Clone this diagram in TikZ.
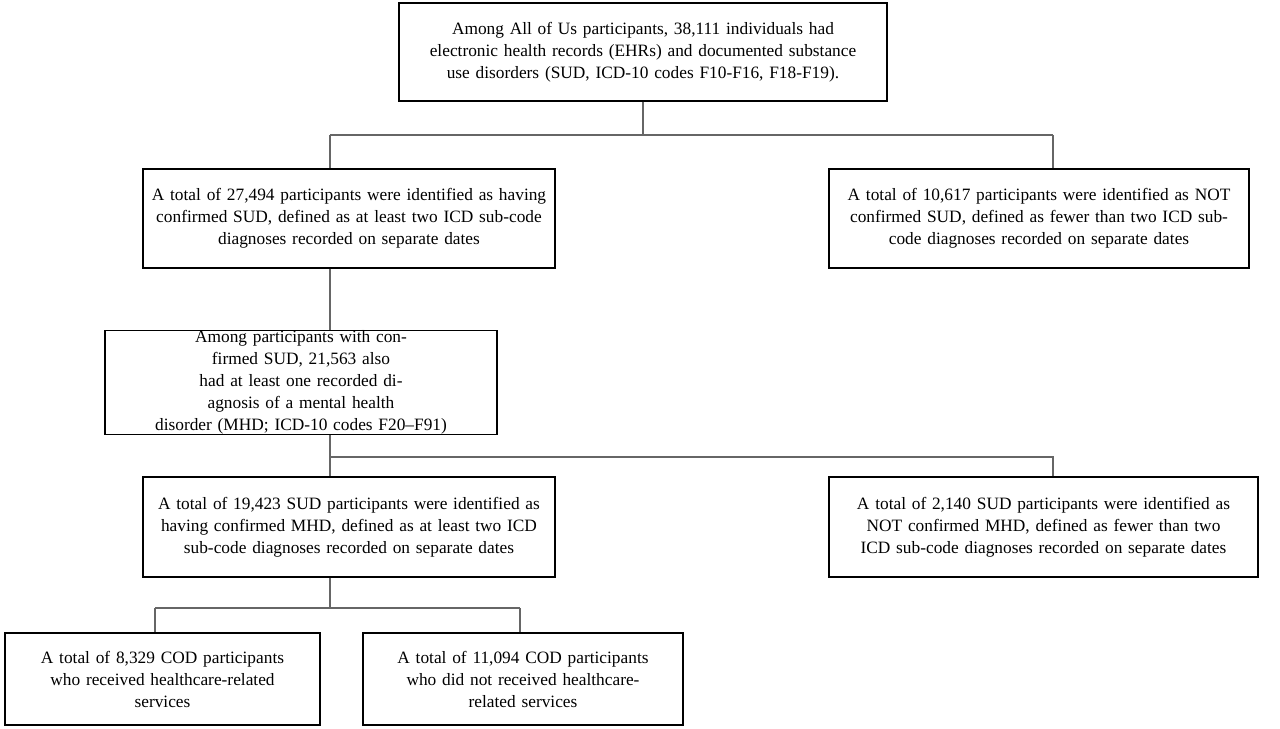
\documentclass[tikz,border=0pt]{standalone}
\usepackage{fontspec}
\setmainfont{Liberation Serif}
\usetikzlibrary{calc}
\tikzset{>=latex,
  box/.style={draw, thick, align=center, inner sep=0pt, font=\fontsize{13}{16.5}\selectfont},
  link/.style={draw, black!60, thick}}

\begin{document}
\begin{tikzpicture}[x=0.75pt, y=-0.75pt]
    \useasboundingbox (0,0) rectangle (1280,728);

    \node[box, minimum width=366pt, minimum height=73.5pt, text width=352.5pt] (all) at (643,52)
        {Among All of Us participants, 38,111 individuals had\\ electronic health records (EHRs) and documented substance\\ use disorders (SUD, ICD-10 codes F10-F16, F18-F19).};
    \node[box, minimum width=309pt, minimum height=74.25pt, text width=300pt] (sud) at (349,218.5)
        {A total of 27,494 participants were identified as having\\ confirmed SUD, defined as at least two ICD sub-code\\ diagnoses recorded on separate dates};
    \node[box, minimum width=315pt, minimum height=74.25pt, text width=307.5pt] (nosud) at (1039,218.5)
        {A total of 10,617 participants were identified as NOT\\ confirmed SUD, defined as fewer than two ICD sub-\\ code diagnoses recorded on separate dates};
    \node[box, minimum width=294pt, minimum height=74.25pt, text width=285pt] (mhd) at (301,382.5)
        {Among participants with confirmed SUD, 21,563 also\\ had at least one recorded diagnosis of a mental health\\ disorder (MHD; ICD-10 codes F20--F91)};
    \node[box, minimum width=309pt, minimum height=75pt, text width=300pt] (cmhd) at (349,527)
        {A total of 19,423 SUD participants were identified as\\ having confirmed MHD, defined as at least two ICD\\ sub-code diagnoses recorded on separate dates};
    \node[box, minimum width=321.75pt, minimum height=75pt, text width=315pt] (nomhd) at (1043.5,527)
        {A total of 2,140 SUD participants were identified as\\ NOT confirmed MHD, defined as fewer than two\\ ICD sub-code diagnoses recorded on separate dates};
    \node[box, minimum width=236.25pt, minimum height=69pt, text width=225pt] (care) at (162.5,679)
        {A total of 8,329 COD participants\\ who received healthcare-related\\ services};
    \node[box, minimum width=240pt, minimum height=69pt, text width=232.5pt] (nocare) at (523,679)
        {A total of 11,094 COD participants\\ who did not received healthcare-\\ related services};

    % split points
    \coordinate (s1) at (643,135);
    \coordinate (s1l) at (330,135);
    \coordinate (s1r) at (1053,135);
    \coordinate (s2) at (330,457);
    \coordinate (s2r) at (1053,457);
    \coordinate (s3) at (330,608);
    \coordinate (s3l) at (155,608);
    \coordinate (s3r) at (520,608);

    \draw[link] (all.south) -- (s1);
    \draw[link] (s1l) -- (s1r);
    \draw[link] (s1l) -- (sud.north -| s1l);
    \draw[link] (s1r) -- (nosud.north -| s1r);
    \draw[link] (sud.south -| s1l) -- (mhd.north -| s1l);
    \draw[link] (mhd.south -| s2) -- (s2);
    \draw[link] (s2) -- (s2r) -- (nomhd.north -| s2r);
    \draw[link] (s2) -- (cmhd.north -| s2);
    \draw[link] (cmhd.south -| s3) -- (s3);
    \draw[link] (s3l) -- (s3r);
    \draw[link] (s3l) -- (care.north -| s3l);
    \draw[link] (s3r) -- (nocare.north -| s3r);

\end{tikzpicture}
\end{document}
